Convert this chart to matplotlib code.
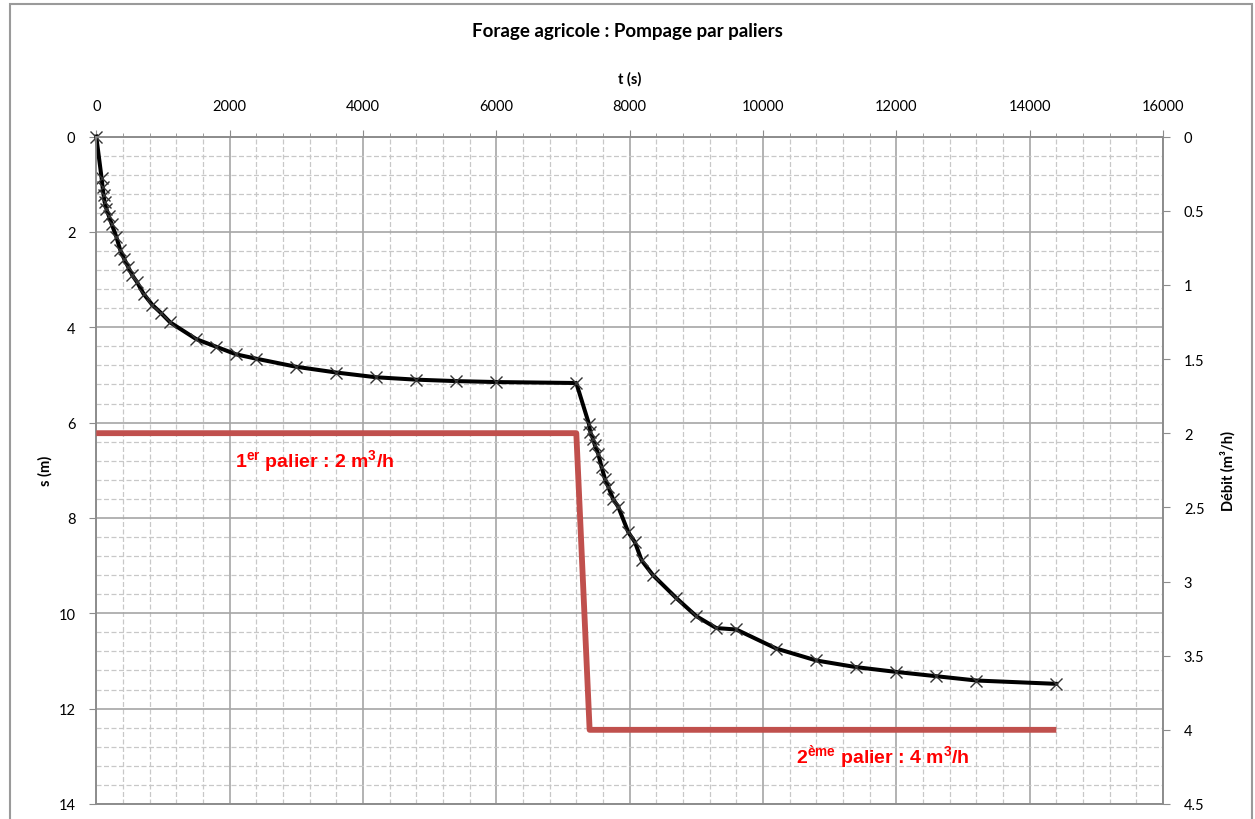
import numpy as np
import matplotlib
matplotlib.use("Agg")
import matplotlib.pyplot as plt
from matplotlib.ticker import MultipleLocator
from matplotlib.patches import Rectangle

plt.rcParams['font.family'] = ['Lato', 'DejaVu Sans']
plt.rcParams['mathtext.fontset'] = 'custom'
plt.rcParams['mathtext.rm'] = 'Liberation Sans:bold'
plt.rcParams['mathtext.it'] = 'Liberation Sans:bold'
plt.rcParams['mathtext.bf'] = 'Liberation Sans:bold'

# rabattement mesure, palier 1 puis palier 2
t = [0, 80, 95, 110, 125, 150, 190, 230, 300, 360, 420, 480, 540, 610, 710,
     840, 970, 1110, 1500, 1800, 2100, 2400, 3000, 3600, 4200, 4800, 5400,
     6000, 7200,
     7390, 7410, 7450, 7480, 7530, 7580, 7630, 7680, 7750, 7830, 7980, 8080,
     8180, 8350, 8700, 9000, 9300, 9600, 10200, 10800, 11400, 12000, 12600,
     13200, 14400]
s = [0, 0.87, 1.06, 1.23, 1.37, 1.51, 1.67, 1.83, 2.1, 2.38, 2.57, 2.74,
     2.91, 3.05, 3.3, 3.53, 3.7, 3.9, 4.25, 4.41, 4.57, 4.66, 4.83, 4.95,
     5.05, 5.1, 5.13, 5.15, 5.17,
     6.03, 6.2, 6.34, 6.48, 6.66, 6.94, 7.18, 7.35, 7.6, 7.77, 8.3, 8.51,
     8.89, 9.2, 9.68, 10.06, 10.31, 10.34, 10.74, 10.99, 11.13, 11.23, 11.32,
     11.41, 11.48]

# debit impose
t_q = [0, 7200, 7400, 14400]
q = [2, 2, 4, 4]

fig = plt.figure(figsize=(12.55, 8.2), dpi=100)
ax = fig.add_axes([0.0767, 0.0183, 0.85, 0.814])
ax2 = ax.twinx()

ax.set_xlim(0, 16000)
ax.set_ylim(14, 0)
ax2.set_ylim(4.5, 0)

ax.xaxis.set_major_locator(MultipleLocator(2000))
ax.xaxis.set_minor_locator(MultipleLocator(400))
ax.yaxis.set_major_locator(MultipleLocator(2))
ax.yaxis.set_minor_locator(MultipleLocator(0.4))
ax2.yaxis.set_major_locator(MultipleLocator(0.5))

ax.grid(which='major', color='#a6a6a6', lw=1.2, ls='-')
ax.grid(which='minor', color='#c8c8c8', lw=0.9, ls=(0, (4, 2)))
ax.set_axisbelow(True)

ax.xaxis.tick_top()
ax.xaxis.set_label_position('top')
for a in (ax, ax2):
    for sp in a.spines.values():
        sp.set_color('#8c8c8c')
        sp.set_linewidth(1.2)
ax.tick_params(axis='x', which='major', direction='out', length=5, pad=12,
               color='#8c8c8c', labelsize=10.5)
ax.tick_params(axis='x', which='minor', direction='out', length=3, color='#8c8c8c')
ax.tick_params(axis='y', which='major', direction='out', length=5, pad=10,
               color='#8c8c8c', labelsize=10.5)
ax.tick_params(axis='y', which='minor', length=0)
ax2.tick_params(axis='y', direction='out', length=5, pad=10, color='#8c8c8c',
                labelsize=10.5)
ax2.set_yticks([0, 0.5, 1, 1.5, 2, 2.5, 3, 3.5, 4, 4.5])
ax2.set_yticklabels(['0', '0.5', '1', '1.5', '2', '2.5', '3', '3.5', '4', '4.5'])

ax.plot(t, s, color='black', lw=2.9, marker='x', ms=9, mew=1.0,
        mec='#333333', zorder=4, clip_on=False)
ax2.plot(t_q, q, color='#c0504d', lw=4.2, solid_capstyle='butt', zorder=3)

ax.set_xlabel('t (s)', fontweight='bold', fontsize=10.5, labelpad=12)
ax.set_ylabel('s (m)', fontweight='bold', fontsize=10.5, labelpad=4)
ax2.set_ylabel('Débit (m³/h)', fontweight='bold', fontsize=10.5, labelpad=11)

fig.text(0.5, 0.961, 'Forage agricole : Pompage par paliers', ha='center',
         va='center', fontweight='bold', fontsize=13.5)

ax2.text(2080, 2.18, r'1$^{er}$ palier : 2 m$^{3}$/h', color='#ff0000',
         fontsize=14, fontweight='bold', family='Liberation Sans',
         ha='left', va='center')
ax2.text(10500, 4.18, r'2$^{ème}$ palier : 4 m$^{3}$/h', color='#ff0000',
         fontsize=14, fontweight='bold', family='Liberation Sans',
         ha='left', va='center')

fig.patches.append(Rectangle((0.008, -0.01), 0.99, 1.004, transform=fig.transFigure,
                             fill=False, ec='#9a9a9a', lw=1.5))

fig.savefig('out.png', dpi=100)
